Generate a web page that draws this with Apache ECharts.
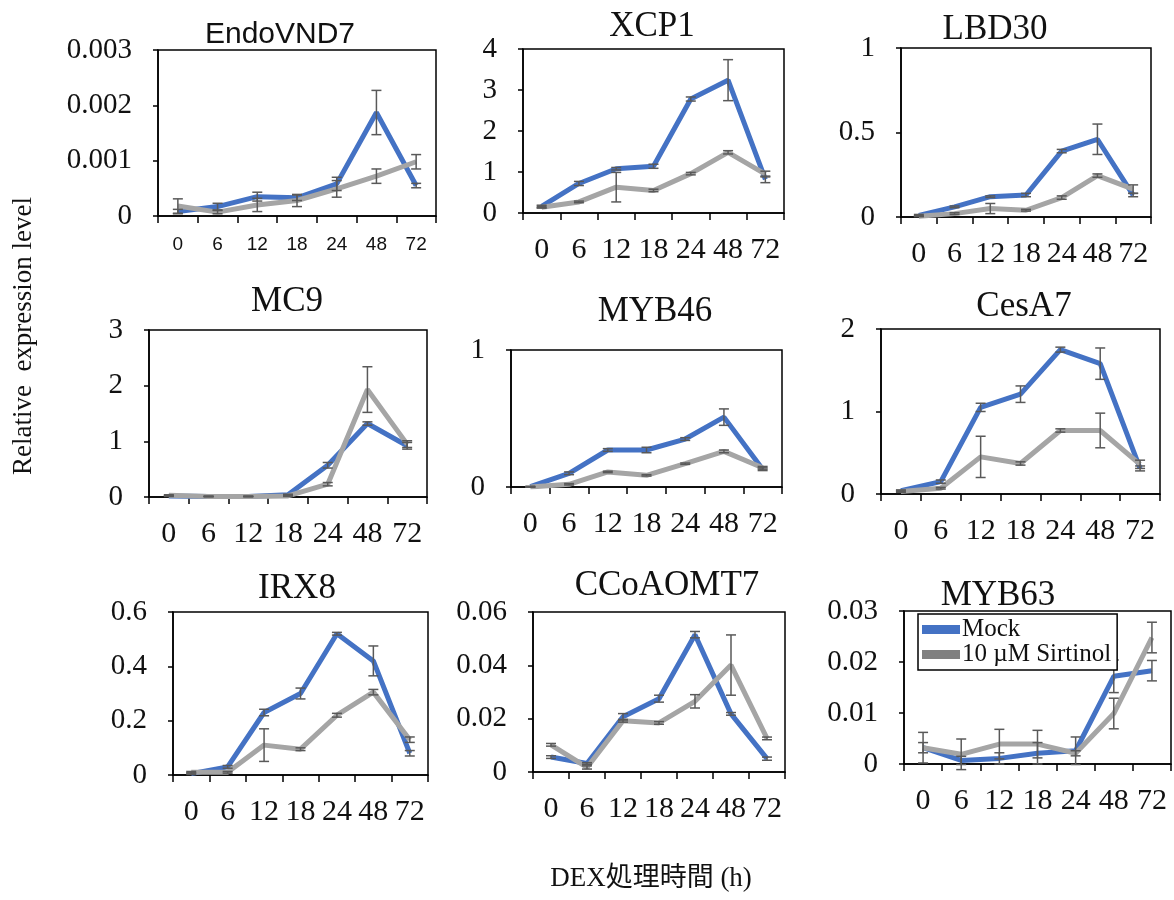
<!DOCTYPE html>
<html>
<head>
<meta charset="utf-8">
<script src="https://cdn.jsdelivr.net/npm/echarts@6/dist/echarts.min.js"></script>
<style>
html,body{margin:0;padding:0;background:#fff;}
#chart{width:1174px;height:900px;}
</style>
</head>
<body>
<div id="chart"></div>
<script>
// ---- data ----
const timeLabels = ['0', '6', '12', '18', '24', '48', '72'];
const seriesNames = ['Mock', '10 µM Sirtinol'];

const endoVND7Mock   = [0.00008, 0.00017, 0.00035, 0.00033, 0.00058, 0.00187, 0.00055];
const endoVND7Sir    = [0.00018, 0.00007, 0.00020, 0.00028, 0.00049, 0.00072, 0.00098];
const endoVND7MockErr= [0.00004, 0.00006, 0.00008, 0.00005, 0.00012, 0.00040, 0.00004];
const endoVND7SirErr = [0.00013, 0.00003, 0.00012, 0.00011, 0.00015, 0.00013, 0.00013];

const xcp1Mock    = [0.16, 0.72, 1.08, 1.14, 2.78, 3.24, 0.82];
const xcp1Sir     = [0.14, 0.27, 0.63, 0.55, 0.96, 1.48, 0.95];
const xcp1MockErr = [0.03, 0.05, 0.03, 0.05, 0.05, 0.50, 0.08];
const xcp1SirErr  = [0.02, 0.02, 0.36, 0.03, 0.03, 0.04, 0.07];

const lbd30Mock    = [0.01, 0.06, 0.12, 0.13, 0.39, 0.46, 0.13];
const lbd30Sir     = [0.005, 0.02, 0.05, 0.04, 0.115, 0.245, 0.165];
const lbd30MockErr = [0.005, 0.005, 0.005, 0.01, 0.01, 0.09, 0.01];
const lbd30SirErr  = [0.003, 0.005, 0.03, 0.005, 0.01, 0.01, 0.025];

const mc9Mock    = [0.02, 0.01, 0.01, 0.04, 0.57, 1.32, 0.92];
const mc9Sir     = [0.03, 0.01, 0.01, 0.02, 0.23, 1.93, 0.95];
const mc9MockErr = [0.01, 0.005, 0.005, 0.01, 0.05, 0.03, 0.06];
const mc9SirErr  = [0.01, 0.005, 0.005, 0.01, 0.03, 0.41, 0.06];

const myb46Mock    = [0.003, 0.10, 0.27, 0.27, 0.35, 0.51, 0.13];
const myb46Sir     = [0.0, 0.02, 0.11, 0.085, 0.17, 0.26, 0.14];
const myb46MockErr = [0.003, 0.01, 0.01, 0.02, 0.01, 0.06, 0.01];
const myb46SirErr  = [0.002, 0.005, 0.005, 0.005, 0.005, 0.01, 0.01];

const cesA7Mock    = [0.04, 0.15, 1.05, 1.21, 1.75, 1.58, 0.31];
const cesA7Sir     = [0.03, 0.07, 0.45, 0.37, 0.77, 0.77, 0.36];
const cesA7MockErr = [0.01, 0.02, 0.05, 0.10, 0.03, 0.19, 0.03];
const cesA7SirErr  = [0.01, 0.01, 0.25, 0.02, 0.02, 0.21, 0.05];

const irx8Mock    = [0.005, 0.03, 0.23, 0.30, 0.52, 0.42, 0.08];
const irx8Sir     = [0.01, 0.01, 0.11, 0.095, 0.22, 0.305, 0.13];
const irx8MockErr = [0.003, 0.005, 0.012, 0.02, 0.005, 0.055, 0.01];
const irx8SirErr  = [0.003, 0.003, 0.06, 0.005, 0.007, 0.01, 0.01];

const ccoaomt7Mock    = [0.0056, 0.0032, 0.0207, 0.0275, 0.0515, 0.0218, 0.0050];
const ccoaomt7Sir     = [0.0102, 0.0017, 0.0192, 0.0184, 0.0265, 0.0401, 0.0126];
const ccoaomt7MockErr = [0.0005, 0.0003, 0.0012, 0.0013, 0.0012, 0.0005, 0.0006];
const ccoaomt7SirErr  = [0.0005, 0.0006, 0.0005, 0.0005, 0.0025, 0.0113, 0.0005];

const myb63Mock    = [0.0032, 0.0007, 0.0011, 0.0021, 0.0026, 0.0172, 0.0183];
const myb63Sir     = [0.0032, 0.0019, 0.0039, 0.0039, 0.0021, 0.0099, 0.0248];
const myb63MockErr = [0.0030, 0.0008, 0.0011, 0.0021, 0.0027, 0.0032, 0.0020];
const myb63SirErr  = [0.0010, 0.0030, 0.0029, 0.0027, 0.0005, 0.0030, 0.0030];

// y-axis scales per panel
const yMaxes     = [0.003, 4, 1, 3, 1, 2, 0.6, 0.06, 0.03];
const yIntervals = [0.001, 1, 0.5, 1, 1, 1, 0.2, 0.02, 0.01];
const geneNames  = ['EndoVND7', 'XCP1', 'LBD30', 'MC9', 'MYB46', 'CesA7', 'IRX8', 'CCoAOMT7', 'MYB63'];

// ---- layout (positions / styles) ----
const panels = [
  {gene: 0, mock: endoVND7Mock, sir: endoVND7Sir, me: endoVND7MockErr, se: endoVND7SirErr, left: 158, top: 50, width: 278, height: 166, tx: 280, ty: 33, sans: true},
  {gene: 1, mock: xcp1Mock, sir: xcp1Sir, me: xcp1MockErr, se: xcp1SirErr, left: 523, top: 49, width: 261, height: 164, tx: 652, ty: 25},
  {gene: 2, mock: lbd30Mock, sir: lbd30Sir, me: lbd30MockErr, se: lbd30SirErr, left: 901, top: 48, width: 250, height: 169, tx: 995, ty: 28},
  {gene: 3, mock: mc9Mock, sir: mc9Sir, me: mc9MockErr, se: mc9SirErr, left: 149, top: 330, width: 278, height: 167, tx: 287, ty: 300},
  {gene: 4, mock: myb46Mock, sir: myb46Sir, me: myb46MockErr, se: myb46SirErr, left: 511, top: 350, width: 271, height: 137, tx: 655, ty: 310},
  {gene: 5, mock: cesA7Mock, sir: cesA7Sir, me: cesA7MockErr, se: cesA7SirErr, left: 881, top: 329, width: 279, height: 165, tx: 1024, ty: 305},
  {gene: 6, mock: irx8Mock, sir: irx8Sir, me: irx8MockErr, se: irx8SirErr, left: 173, top: 612, width: 255, height: 163, tx: 297, ty: 587},
  {gene: 7, mock: ccoaomt7Mock, sir: ccoaomt7Sir, me: ccoaomt7MockErr, se: ccoaomt7SirErr, left: 533, top: 612, width: 252, height: 160, tx: 667, ty: 584},
  {gene: 8, mock: myb63Mock, sir: myb63Sir, me: myb63MockErr, se: myb63SirErr, left: 904, top: 611, width: 267, height: 153, tx: 998, ty: 594}
];

const SERIF = '"Liberation Serif", "Times New Roman", serif';
const SANS = '"Liberation Sans", Arial, sans-serif';
const BLUE = '#4472C4';
const GRAY = '#A5A5A5';
const ERR = '#595959';

function fmtY(v) {
  if (v === 0) return '0';
  return String(parseFloat(v.toPrecision(6)));
}

const grids = [], xAxes = [], yAxes = [], series = [], graphics = [];

function errRender(params, api) {
  const i = api.value(0), v = api.value(1), e = api.value(2);
  const hi = api.coord([i, v + e]);
  const lo = api.coord([i, v - e]);
  const cap = 5;
  const st = {stroke: ERR, lineWidth: 1.5};
  return {
    type: 'group',
    children: [
      {type: 'line', shape: {x1: hi[0], y1: hi[1], x2: lo[0], y2: lo[1]}, style: st},
      {type: 'line', shape: {x1: hi[0] - cap, y1: hi[1], x2: hi[0] + cap, y2: hi[1]}, style: st},
      {type: 'line', shape: {x1: lo[0] - cap, y1: lo[1], x2: lo[0] + cap, y2: lo[1]}, style: st}
    ]
  };
}

panels.forEach((p, k) => {
  grids.push({left: p.left, top: p.top, width: p.width, height: p.height, show: true,
    borderColor: '#000', borderWidth: 1.5, containLabel: false});
  xAxes.push({
    type: 'category', gridIndex: k, data: timeLabels, boundaryGap: true,
    axisLine: {show: true, lineStyle: {color: '#000', width: 1.5}},
    axisTick: {show: true, inside: false, length: 7, alignWithLabel: false, lineStyle: {color: '#000', width: 1.5}},
    axisLabel: {interval: 0, margin: p.sans ? 19 : 22, color: '#111',
      fontFamily: p.sans ? SANS : SERIF, fontSize: p.sans ? 19 : 30},
    splitLine: {show: false}
  });
  yAxes.push({
    type: 'value', gridIndex: k, min: 0, max: yMaxes[p.gene], interval: yIntervals[p.gene],
    axisLine: {show: true, lineStyle: {color: '#000', width: 1.5}},
    axisTick: {show: true, inside: false, length: 5, lineStyle: {color: '#000', width: 1.5}},
    axisLabel: {margin: 26, color: '#111', fontFamily: SERIF, fontSize: 29, formatter: fmtY},
    splitLine: {show: false}
  });
  series.push({
    name: seriesNames[0], type: 'line', xAxisIndex: k, yAxisIndex: k, data: p.mock,
    symbol: 'none', lineStyle: {color: BLUE, width: 5}, itemStyle: {color: BLUE}, z: 2, animation: false
  });
  series.push({
    name: seriesNames[1], type: 'line', xAxisIndex: k, yAxisIndex: k, data: p.sir,
    symbol: 'none', lineStyle: {color: GRAY, width: 5}, itemStyle: {color: GRAY}, z: 3, animation: false
  });
  const errData = [];
  timeLabels.forEach((t, i) => {
    errData.push([i, p.mock[i], p.me[i]]);
    errData.push([i, p.sir[i], p.se[i]]);
  });
  series.push({
    type: 'custom', xAxisIndex: k, yAxisIndex: k, data: errData, renderItem: errRender,
    encode: {x: 0, y: 1}, z: 4, clip: false, silent: true, animation: false
  });
  graphics.push({
    type: 'text', x: p.tx, y: p.ty + 2,
    style: {text: geneNames[p.gene], font: p.sans ? ('30px ' + SANS) : ('35px ' + SERIF), fill: '#111',
      textAlign: 'center', textVerticalAlign: 'middle', align: 'center', verticalAlign: 'middle'}
  });
});

graphics.push({
  type: 'text', x: 24, y: 336, rotation: Math.PI / 2,
  style: {text: 'Relative  expression level', font: '27px ' + SERIF, fill: '#111',
    textAlign: 'center', textVerticalAlign: 'middle', align: 'center', verticalAlign: 'middle'}
});
graphics.push({
  type: 'text', x: 651, y: 879,
  style: {text: 'DEX処理時間 (h)', font: '27px "Liberation Serif", "Noto Sans CJK JP", serif', fill: '#111',
    textAlign: 'center', textVerticalAlign: 'middle', align: 'center', verticalAlign: 'middle'}
});

const chart = echarts.init(document.getElementById('chart'), null, {renderer: 'canvas'});
chart.setOption({
  animation: false,
  backgroundColor: '#fff',
  grid: grids,
  xAxis: xAxes,
  yAxis: yAxes,
  series: series,
  graphic: graphics,
  legend: {
    left: 918, top: 614, orient: 'vertical', show: true,
    backgroundColor: '#fff', borderColor: '#000', borderWidth: 1.5,
    padding: [3, 6, 3, 4], itemGap: 0, itemWidth: 38, itemHeight: 9, icon: 'rect',
    textStyle: {fontFamily: SERIF, fontSize: 25, color: '#111', lineHeight: 23, padding: [0, 0, 0, -3]},
    data: [
      {name: seriesNames[0], itemStyle: {color: BLUE}},
      {name: seriesNames[1], itemStyle: {color: '#808080'}}
    ],
    z: 10
  }
});
</script>
</body>
</html>
